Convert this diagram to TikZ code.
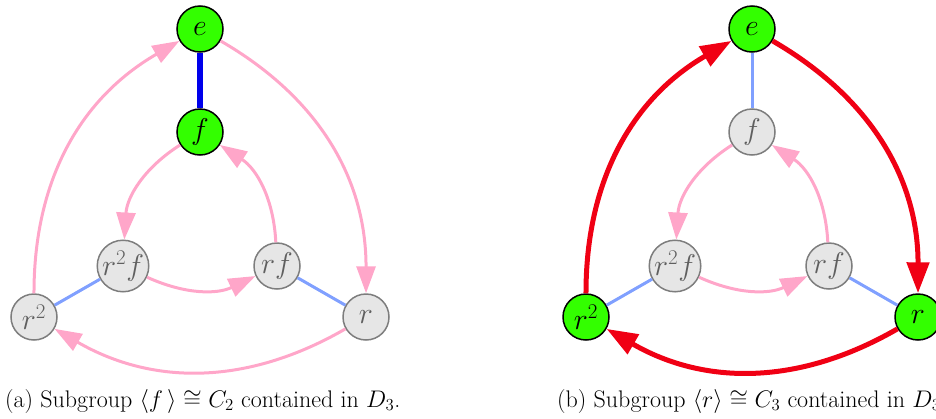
\RequirePackage{fix-cm}
\documentclass[tikz,border=0pt]{standalone}
\usetikzlibrary{arrows.meta}
\definecolor{nodegreen}{RGB}{51,255,0}
\definecolor{edgepink}{RGB}{255,166,201}
\definecolor{edgeblue}{RGB}{128,160,255}
\definecolor{darkblue}{RGB}{0,0,235}
\definecolor{edgered}{RGB}{240,0,20}
\definecolor{greyfill}{RGB}{230,230,230}
\definecolor{greyline}{RGB}{125,125,125}
\definecolor{greytext}{RGB}{95,95,95}
\tikzset{
 vtx/.style={circle, minimum size=46pt, inner sep=0pt, font=\fontsize{30}{30}\selectfont},
 ingrp/.style={vtx, fill=nodegreen, draw=black, line width=1.5pt, text=black},
 outgrp/.style={vtx, fill=greyfill, draw=greyline, line width=1.5pt, text=greytext},
 parr/.style={draw=edgepink, line width=3pt, -{Triangle[length=27pt,width=19pt]}},
 rarr/.style={draw=edgered, line width=5pt, -{Triangle[length=31pt,width=22pt]}},
 lblue/.style={draw=edgeblue, line width=3pt},
 dblue/.style={draw=darkblue, line width=6pt},
 captext/.style={inner sep=0pt, anchor=base west, font=\fontsize{24}{28}\selectfont}
}
\begin{document}
\begin{tikzpicture}[x=1pt,y=-1pt]
\useasboundingbox (0,0) rectangle (936,418);
% left diagram
\node[ingrp]  (ae)   at (200,29)  {$e$};
\node[ingrp]  (af)   at (200,132) {$f$};
\node[outgrp] (ar2f) at (123,266) {$r^2f$};
\node[outgrp] (arf)  at (277,266) {$rf$};
\node[outgrp] (ar2)  at (34,317)  {$r^2$};
\node[outgrp] (ar)   at (366,317) {$r$};
\draw[dblue] (ae) -- (af);
\draw[lblue] (ar2) -- (ar2f);
\draw[lblue] (arf) -- (ar);
\draw[parr] (ae) to[bend left=30] (ar);
\draw[parr] (ar) to[bend left=30] (ar2);
\draw[parr] (ar2) to[bend left=30] (ae);
\draw[parr] (af) to[bend right=27] (ar2f);
\draw[parr] (ar2f) to[bend right=25] (arf);
\draw[parr] (arf) to[bend right=27] (af);
% right diagram
\node[ingrp]  (be)   at (752,29)  {$e$};
\node[outgrp] (bf)   at (752,132) {$f$};
\node[outgrp] (br2f) at (675,266) {$r^2f$};
\node[outgrp] (brf)  at (829,266) {$rf$};
\node[ingrp]  (br2)  at (586,317) {$r^2$};
\node[ingrp]  (br)   at (918,317) {$r$};
\draw[lblue] (be) -- (bf);
\draw[lblue] (br2) -- (br2f);
\draw[lblue] (brf) -- (br);
\draw[rarr] (be) to[bend left=30] (br);
\draw[rarr] (br) to[bend left=30] (br2);
\draw[rarr] (br2) to[bend left=30] (be);
\draw[parr] (bf) to[bend right=27] (br2f);
\draw[parr] (br2f) to[bend right=25] (brf);
\draw[parr] (brf) to[bend right=27] (bf);
% captions
\node[captext] (capa) at (5,407) {(a) Subgroup $\langle f\,\rangle\cong C_2$ contained in $D_3$.};
\node[captext] (capb) at (557,407) {(b) Subgroup $\langle r\rangle\cong C_3$ contained in $D_3$.};
\end{tikzpicture}
\end{document}
